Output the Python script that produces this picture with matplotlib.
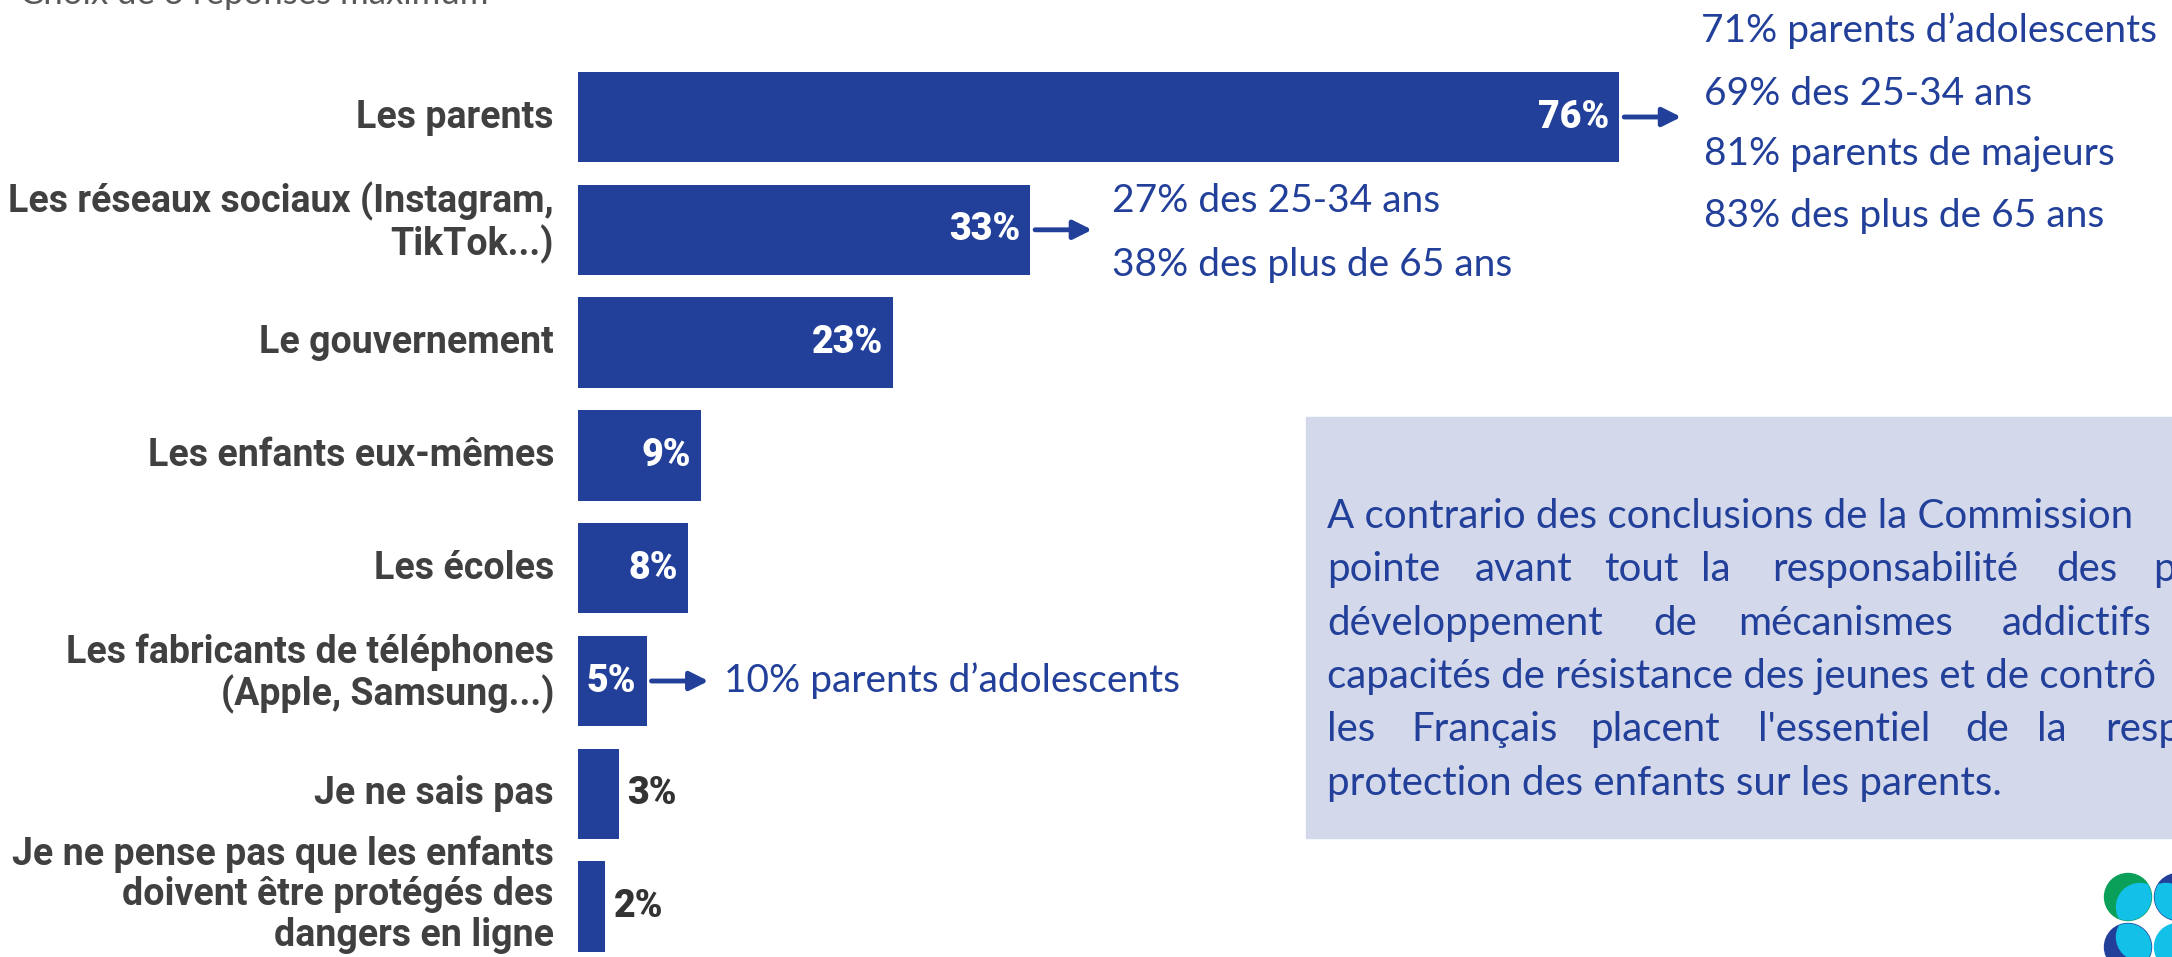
import matplotlib.pyplot as plt
from matplotlib.patches import Rectangle, Circle
from matplotlib.transforms import offset_copy

# Data
categories = [
    "Les parents",
    "Les réseaux sociaux (Instagram,\nTikTok...)",
    "Le gouvernement",
    "Les enfants eux-mêmes",
    "Les écoles",
    "Les fabricants de téléphones\n(Apple, Samsung...)",
    "Je ne sais pas",
    "Je ne pense pas que les enfants\ndoivent être protégés des\ndangers en ligne",
]
values = [76, 33, 23, 9, 8, 5, 3, 2]

# detail callouts next to some bars
details_parents = ["71% parents d’adolescents", "69% des 25-34 ans",
                   "81% parents de majeurs", "83% des plus de 65 ans"]
details_reseaux = ["27% des 25-34 ans", "38% des plus de 65 ans"]
details_fabricants = ["10% parents d’adolescents"]

subtitle = "Choix de 3 réponses maximum"

BLUE = "#22409A"
GREY = "#404040"
BOX = "#D3D8EA"
LBL_FONT = ["Roboto", "DejaVu Sans"]
TXT_FONT = ["Lato", "DejaVu Sans"]

W, H = 2172, 957
fig = plt.figure(figsize=(W / 100, H / 100), dpi=100)


def fx(x):
    return x / W


def fy(y):
    return 1 - y / H


# bar axes: x 0..100 over 1370 px starting at 578 px
top, step = 117, 112.8
ax = fig.add_axes([fx(578), fy(top + 7.5 * step), 1370 / W, 8 * step / H])
ax.set_xlim(0, 100)
ax.set_ylim(len(values) - 0.5, -0.5)
ax.axis("off")
pxu = 1370 / 100  # pixels per unit

ax.barh(range(len(values)), values, height=0.8, color=BLUE)

# category labels, right aligned 24 px left of the bars
for i, lab in enumerate(categories):
    nlines = lab.count("\n") + 1
    tr = offset_copy(ax.transData, fig=fig, x=-24, y=[0, 7, 12][nlines - 1],
                     units="dots")
    ax.text(0, i, lab, transform=tr, ha="right", va="center", fontsize=27,
            fontweight="bold", color=GREY, family=LBL_FONT, linespacing=1.12)

for i, v in enumerate(values):
    if v >= 5:
        ax.text(v - 10 / pxu, i, f"{v}%", ha="right", va="center", color="white",
                fontsize=27, fontweight="heavy", family=LBL_FONT)
    else:
        ax.text(v + 8 / pxu, i, f"{v}%", ha="left", va="center", color="#333333",
                fontsize=27, fontweight="heavy", family=LBL_FONT)


def arrow(i):
    v = values[i]
    ax.annotate("", xy=(v + 62 / pxu, i), xytext=(v + 5 / pxu, i),
                arrowprops=dict(arrowstyle="-|>", color=BLUE, lw=3.5,
                                mutation_scale=28, shrinkA=0, shrinkB=0))


arrow(0)
arrow(1)
arrow(5)

# callout texts (pixel layout)
for k, (t, yy) in enumerate(zip(details_parents, [31, 94, 154, 216])):
    fig.text(fx(1701 + (0 if k == 0 else 3)), fy(yy), t, ha="left", va="center",
             color=BLUE, fontsize=28, family=TXT_FONT)
for t, yy in zip(details_reseaux, [201, 265]):
    fig.text(fx(1112), fy(yy), t, ha="left", va="center", color=BLUE,
             fontsize=28, family=TXT_FONT)
fig.text(fx(724), fy(681), details_fabricants[0], ha="left", va="center",
         color=BLUE, fontsize=28, family=TXT_FONT)

# subtitle, cut by the top edge as in the source
fig.text(fx(20), fy(4), subtitle, ha="left", va="baseline", color="#595959",
         fontsize=25, family=TXT_FONT)

# commentary box
fig.patches.append(Rectangle((fx(1306), fy(838)), fx(900), 421 / H,
                             transform=fig.transFigure, color=BOX, zorder=0))
box_lines = [
    [("A contrario des conclusions de la Commission", 1327)],
    [("pointe", 1327), ("avant", 1475), ("tout", 1604), ("la", 1701),
     ("responsabilité", 1772), ("des", 2056), ("p", 2153)],
    [("développement", 1327), ("de", 1653), ("mécanismes", 1738), ("addictifs", 2002)],
    [("capacités de résistance des jeunes et de contrô", 1327)],
    [("les", 1327), ("Français", 1411), ("placent", 1590), ("l'essentiel", 1758),
     ("de", 1965), ("la", 2037), ("resp", 2105)],
    [("protection des enfants sur les parents.", 1327)],
]
for n, line in enumerate(box_lines):
    for word, x in line:
        fig.text(fx(x), fy(528 + n * 53.3), word, ha="left", va="baseline",
                 color=BLUE, fontsize=29, family=TXT_FONT)

# logo in the corner
logo = [((21.28, 0.60), "#0BA05A", (0.12, -0.10)),
        ((21.78, 0.60), BLUE, (-0.12, -0.10)),
        ((21.28, 0.10), BLUE, (0.12, 0.10)),
        ((21.78, 0.10), "#12C0E8", (0.0, 0.0))]
for (cx, cy), col, (ox, oy) in logo:
    base = Circle((cx, cy), 0.235, transform=fig.dpi_scale_trans, color=col)
    fig.patches.append(base)
    lens = Circle((cx + ox, cy + oy), 0.235, transform=fig.dpi_scale_trans,
                  color="#12C0E8")
    lens.set_clip_path(base)
    fig.patches.append(lens)

fig.savefig("out.png", dpi=100)
